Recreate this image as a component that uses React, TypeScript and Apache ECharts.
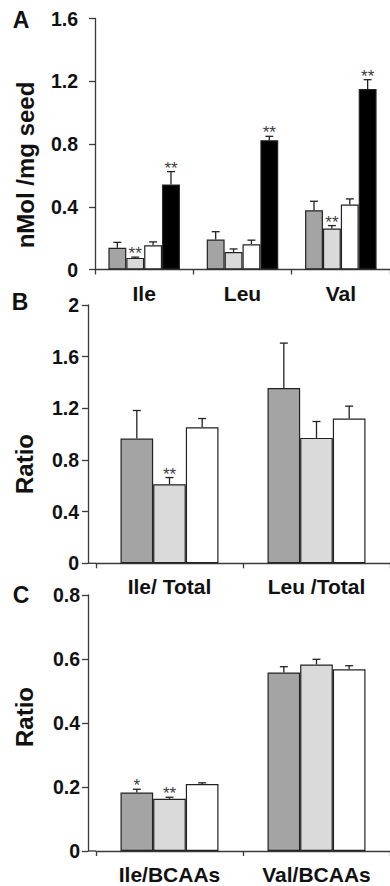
import { useEffect, useRef } from "react";
import * as echarts from "echarts";

// Panel A: nMol / mg seed
const catsA = ["Ile", "Leu", "Val"];
const aGray = [0.138, 0.191, 0.378];
const aGrayErr = [0.035, 0.05, 0.057];
const aLight = [0.074, 0.112, 0.261];
const aLightErr = [0.005, 0.019, 0.019];
const aWhite = [0.154, 0.161, 0.414];
const aWhiteErr = [0.022, 0.026, 0.036];
const aBlack = [0.542, 0.824, 1.15];
const aBlackErr = [0.082, 0.025, 0.06];
const aGrayStars = ["", "", ""];
const aLightStars = ["**", "", "**"];
const aWhiteStars = ["", "", ""];
const aBlackStars = ["**", "**", "**"];

// Panel B: ratio to total
const catsB = ["Ile/ Total", "Leu /Total"];
const bGray = [0.966, 1.357];
const bGrayErr = [0.217, 0.348];
const bLight = [0.612, 0.971];
const bLightErr = [0.052, 0.127];
const bWhite = [1.054, 1.121];
const bWhiteErr = [0.067, 0.096];
const bGrayStars = ["", ""];
const bLightStars = ["**", ""];
const bWhiteStars = ["", ""];

// Panel C: ratio to BCAAs
const catsC = ["Ile/BCAAs", "Val/BCAAs"];
const cGray = [0.183, 0.558];
const cGrayErr = [0.01, 0.018];
const cLight = [0.163, 0.583];
const cLightErr = [0.005, 0.016];
const cWhite = [0.209, 0.568];
const cWhiteErr = [0.004, 0.011];
const cGrayStars = ["*", ""];
const cLightStars = ["**", ""];
const cWhiteStars = ["", ""];

const COLORS = ["#a4a4a4", "#dadada", "#ffffff", "#000000"];
const FONT = "'Liberation Sans', Arial, sans-serif";
const AXIS_COLOR = "#3a3a3a";
const STAR_COLOR = "#3c3c3c";

function errRender(k: number, n: number, gapFrac: number, stars: string[]) {
  return (params: any, api: any) => {
    const ci = api.value(0);
    const v = api.value(1);
    const e = api.value(2);
    const base = api.coord([ci, v]);
    const top = api.coord([ci, v + e]);
    const band = api.size([1, 0])[0];
    const bw = (band * (1 - gapFrac)) / n;
    const x = base[0] + (k - (n - 1) / 2) * bw;
    const st = { stroke: "#222", lineWidth: 1.3, fill: "none" };
    const children: any[] = [
      { type: "line", shape: { x1: x, y1: base[1], x2: x, y2: top[1] }, style: st },
      { type: "line", shape: { x1: x - 4, y1: top[1], x2: x + 4, y2: top[1] }, style: st },
    ];
    const s = stars[params.dataIndex];
    if (s) {
      children.push({
        type: "text",
        x,
        y: top[1] + 5,
        style: {
          text: s,
          fontSize: 17,
          fontFamily: FONT,
          fill: STAR_COLOR,
          align: "center",
          verticalAlign: "bottom",
        },
      });
    }
    return { type: "group", children };
  };
}

function panelSeries(
  gridIndex: number,
  vals: number[][],
  errs: number[][],
  stars: string[][],
  gapFrac: number
) {
  const n = vals.length;
  const out: any[] = [];
  vals.forEach((v, k) => {
    out.push({
      type: "bar",
      xAxisIndex: gridIndex,
      yAxisIndex: gridIndex,
      data: v,
      barGap: "0%",
      barCategoryGap: `${(gapFrac * 100).toFixed(2)}%`,
      itemStyle: { color: COLORS[k], borderColor: "#222", borderWidth: 1.2 },
      z: 2,
    });
  });
  vals.forEach((v, k) => {
    out.push({
      type: "custom",
      xAxisIndex: gridIndex,
      yAxisIndex: gridIndex,
      data: v.map((val, i) => [i, val, errs[k][i]]),
      encode: { x: 0, y: 1 },
      itemStyle: { color: STAR_COLOR },
      renderItem: errRender(k, n, gapFrac, stars[k]),
      z: 3,
    });
  });
  return out;
}

export default function App() {
  const ref = useRef<HTMLDivElement>(null);

  useEffect(() => {
    if (!ref.current) return;
    const chart = echarts.init(ref.current, undefined, { renderer: "svg" });

    const xAxisBase = (data: string[], gi: number) => ({
      type: "category",
      gridIndex: gi,
      data,
      axisLine: { show: true, lineStyle: { color: AXIS_COLOR, width: 1.3 } },
      axisTick: { show: true, length: 5, interval: 0, lineStyle: { color: AXIS_COLOR, width: 1.3 } },
      axisLabel: {
        interval: 0,
        margin: 13,
        fontSize: 21,
        fontWeight: "bold",
        fontFamily: FONT,
        color: "#111",
      },
    });

    const yAxisBase = (gi: number, max: number, interval: number, offset: number, margin: number) => ({
      type: "value",
      gridIndex: gi,
      min: 0,
      max,
      interval,
      offset,
      axisLine: { show: true, lineStyle: { color: AXIS_COLOR, width: 1.3 } },
      axisTick: { show: true, length: 6, lineStyle: { color: AXIS_COLOR, width: 1.3 } },
      splitLine: { show: false },
      axisLabel: {
        margin,
        fontSize: 19.5,
        fontWeight: "bold",
        fontFamily: FONT,
        color: "#111",
      },
    });

    const gapA = 1 - 72 / 99;
    const gapBC = 1 / 3;

    const titleText = (text: string, x: number, y: number, size: number, rot: number) => ({
      type: "text",
      x,
      y,
      rotation: rot,
      style: {
        text,
        fontSize: size,
        fontWeight: "bold",
        fontFamily: FONT,
        fill: "#111",
        align: "center",
        verticalAlign: "middle",
      },
    });

    const baseLine = (y: number) => ({
      type: "line",
      shape: { x1: 88, y1: y, x2: 96, y2: y },
      style: { stroke: AXIS_COLOR, lineWidth: 1.3 },
    });

    chart.setOption({
      animation: false,
      backgroundColor: "#ffffff",
      grid: [
        { left: 95, top: 18.5, width: 297, height: 251 },
        { left: 96, top: 305, width: 297, height: 258.3 },
        { left: 96, top: 595, width: 297, height: 256 },
      ],
      xAxis: [xAxisBase(catsA, 0), xAxisBase(catsB, 1), xAxisBase(catsC, 2)],
      yAxis: [
        yAxisBase(0, 1.6, 0.4, 0, 17),
        yAxisBase(1, 2, 0.4, 8, 9),
        yAxisBase(2, 0.8, 0.2, 8, 8),
      ],
      series: [
        ...panelSeries(
          0,
          [aGray, aLight, aWhite, aBlack],
          [aGrayErr, aLightErr, aWhiteErr, aBlackErr],
          [aGrayStars, aLightStars, aWhiteStars, aBlackStars],
          gapA
        ),
        ...panelSeries(
          1,
          [bGray, bLight, bWhite],
          [bGrayErr, bLightErr, bWhiteErr],
          [bGrayStars, bLightStars, bWhiteStars],
          gapBC
        ),
        ...panelSeries(
          2,
          [cGray, cLight, cWhite],
          [cGrayErr, cLightErr, cWhiteErr],
          [cGrayStars, cLightStars, cWhiteStars],
          gapBC
        ),
      ],
      graphic: [
        titleText("A", 21, 20, 23, 0),
        titleText("B", 20, 302, 23, 0),
        titleText("C", 21, 595, 23, 0),
        titleText("nMol /mg seed", 25, 165, 24, Math.PI / 2),
        titleText("Ratio", 24, 464, 24, Math.PI / 2),
        titleText("Ratio", 24, 717, 24, Math.PI / 2),
        baseLine(563.3),
        baseLine(851),
      ],
    });

    return () => chart.dispose();
  }, []);

  return (
    <div
      ref={ref}
      style={{ position: "absolute", left: 0, top: 0, width: 390, height: 886 }}
    />
  );
}
